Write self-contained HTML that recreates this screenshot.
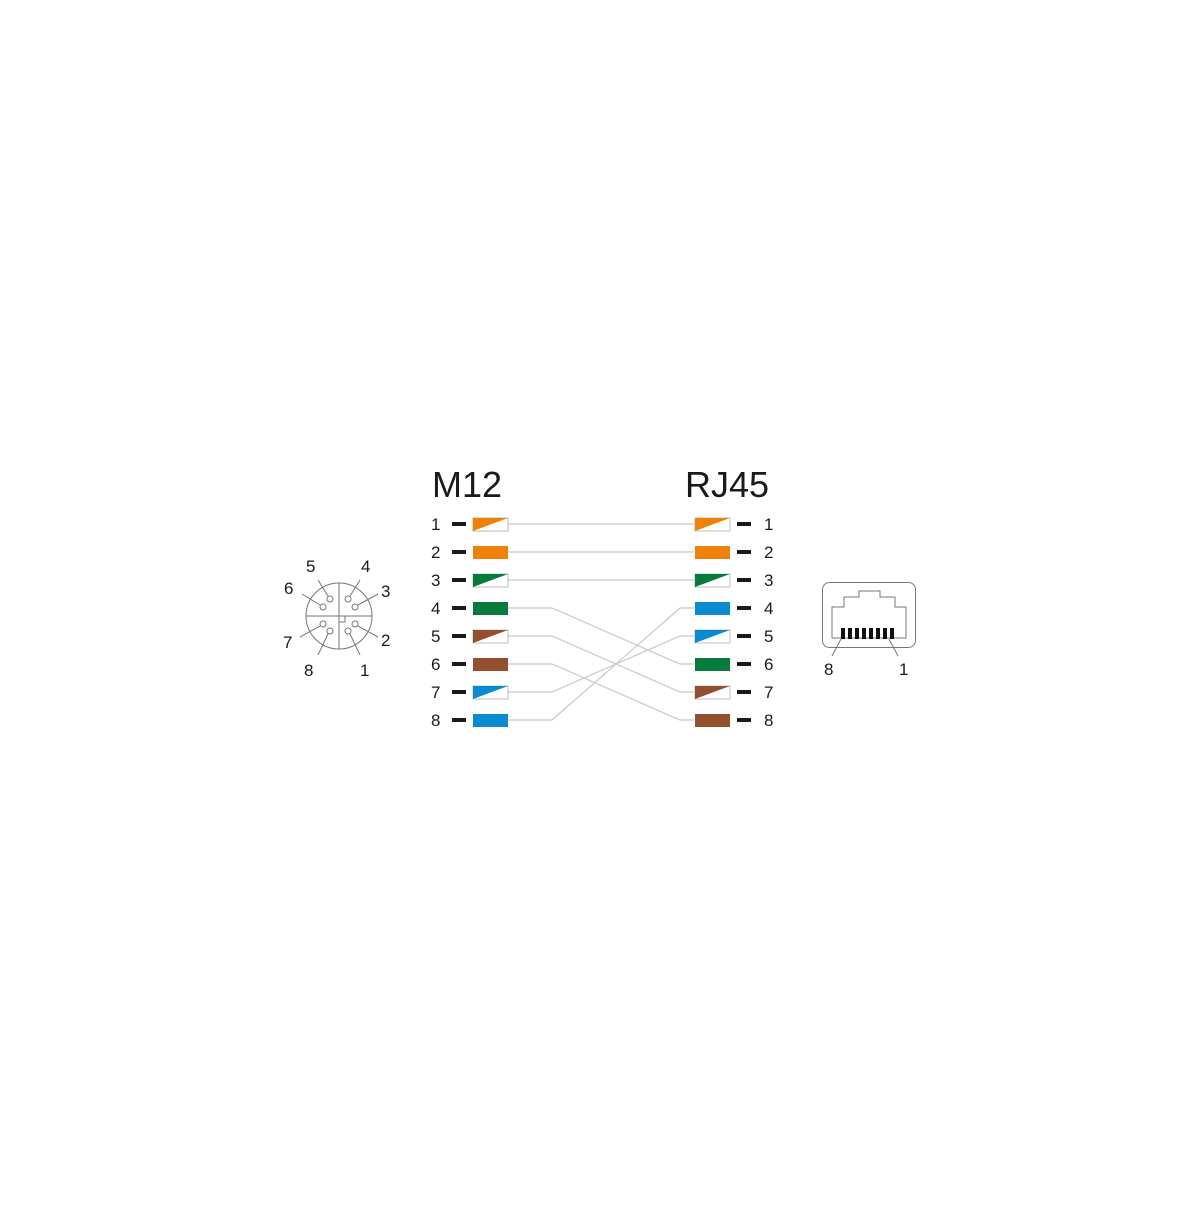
<!DOCTYPE html>
<html><head><meta charset="utf-8"><style>html,body{margin:0;padding:0;background:#fff}</style></head>
<body>
<svg width="1200" height="1200" viewBox="0 0 1200 1200" xmlns="http://www.w3.org/2000/svg" font-family="Liberation Sans, Arial, sans-serif">
<rect width="1200" height="1200" fill="#fff"/>
<text x="432" y="497" font-size="36" fill="#1a1a1a">M12</text>
<text x="685" y="497" font-size="36" fill="#1a1a1a">RJ45</text>

<!-- connection lines -->
<g stroke="#c8c8c8" stroke-width="1.2" fill="none">
<polyline points="508,524 694,524"/>
<polyline points="508,552 694,552"/>
<polyline points="508,580 694,580"/>
<polyline points="508,608 552,608 680,664 694,664"/>
<polyline points="508,636 552,636 680,692 694,692"/>
<polyline points="508,664 552,664 680,720 694,720"/>
<polyline points="508,692 552,692 680,636 694,636"/>
<polyline points="508,720 552,720 680,608 694,608"/>
</g>

<g font-size="17" fill="#1a1a1a">
<!-- left -->
<text x="431" y="530">1</text><text x="431" y="558">2</text><text x="431" y="586">3</text><text x="431" y="614">4</text>
<text x="431" y="642">5</text><text x="431" y="670">6</text><text x="431" y="698">7</text><text x="431" y="726">8</text>
<!-- right -->
<text x="764" y="530">1</text><text x="764" y="558">2</text><text x="764" y="586">3</text><text x="764" y="614">4</text>
<text x="764" y="642">5</text><text x="764" y="670">6</text><text x="764" y="698">7</text><text x="764" y="726">8</text>
</g>
<g fill="#1a1a1a">
<rect x="452" y="522" width="14" height="4"/><rect x="452" y="550" width="14" height="4"/><rect x="452" y="578" width="14" height="4"/><rect x="452" y="606" width="14" height="4"/>
<rect x="452" y="634" width="14" height="4"/><rect x="452" y="662" width="14" height="4"/><rect x="452" y="690" width="14" height="4"/><rect x="452" y="718" width="14" height="4"/>
<rect x="737" y="522" width="14" height="4"/><rect x="737" y="550" width="14" height="4"/><rect x="737" y="578" width="14" height="4"/><rect x="737" y="606" width="14" height="4"/>
<rect x="737" y="634" width="14" height="4"/><rect x="737" y="662" width="14" height="4"/><rect x="737" y="690" width="14" height="4"/><rect x="737" y="718" width="14" height="4"/>
</g>

<!-- left boxes -->
<g stroke="#b0b0b0" stroke-width="0.8">
<rect x="473" y="518" width="35" height="13" fill="#fff"/><polygon points="473,531 508,518 473,518" fill="#ee8208" stroke="none" transform="translate(0,0)"/>
</g>
<defs></defs>
<g>
<!-- striped: color triangle bottom-left -->
<rect x="473" y="518" width="35" height="13" fill="#fff" stroke="#b0b0b0" stroke-width="0.8"/>
<polygon points="473,518 473,531 508,518" fill="#ee8208"/>
<rect x="473" y="546" width="35" height="13" fill="#ee8208"/>
<rect x="473" y="574" width="35" height="13" fill="#fff" stroke="#b0b0b0" stroke-width="0.8"/>
<polygon points="473,574 473,587 508,574" fill="#087a3c"/>
<rect x="473" y="602" width="35" height="13" fill="#087a3c"/>
<rect x="473" y="630" width="35" height="13" fill="#fff" stroke="#b0b0b0" stroke-width="0.8"/>
<polygon points="473,630 473,643 508,630" fill="#93502e"/>
<rect x="473" y="658" width="35" height="13" fill="#93502e"/>
<rect x="473" y="686" width="35" height="13" fill="#fff" stroke="#b0b0b0" stroke-width="0.8"/>
<polygon points="473,686 473,699 508,686" fill="#0a8ad0"/>
<rect x="473" y="714" width="35" height="13" fill="#0a8ad0"/>

<!-- right boxes -->
<rect x="695" y="518" width="35" height="13" fill="#fff" stroke="#b0b0b0" stroke-width="0.8"/>
<polygon points="695,518 695,531 730,518" fill="#ee8208"/>
<rect x="695" y="546" width="35" height="13" fill="#ee8208"/>
<rect x="695" y="574" width="35" height="13" fill="#fff" stroke="#b0b0b0" stroke-width="0.8"/>
<polygon points="695,574 695,587 730,574" fill="#087a3c"/>
<rect x="695" y="602" width="35" height="13" fill="#0a8ad0"/>
<rect x="695" y="630" width="35" height="13" fill="#fff" stroke="#b0b0b0" stroke-width="0.8"/>
<polygon points="695,630 695,643 730,630" fill="#0a8ad0"/>
<rect x="695" y="658" width="35" height="13" fill="#087a3c"/>
<rect x="695" y="686" width="35" height="13" fill="#fff" stroke="#b0b0b0" stroke-width="0.8"/>
<polygon points="695,686 695,699 730,686" fill="#93502e"/>
<rect x="695" y="714" width="35" height="13" fill="#93502e"/>
</g>

<!-- M12 connector -->
<g stroke="#777" stroke-width="1" fill="none">
<circle cx="339" cy="616" r="33"/>
<line x1="339" y1="583" x2="339" y2="649"/>
<line x1="306" y1="616" x2="372" y2="616"/>
<rect x="339" y="616" width="6" height="6"/>
<g fill="#fff">
<circle cx="330" cy="599" r="3"/><circle cx="348" cy="599" r="3"/>
<circle cx="323" cy="607" r="3"/><circle cx="355" cy="607" r="3"/>
<circle cx="323" cy="624" r="3"/><circle cx="355" cy="624" r="3"/>
<circle cx="330" cy="631" r="3"/><circle cx="348" cy="631" r="3"/>
</g>
<line x1="328" y1="596" x2="318" y2="580"/>
<line x1="350" y1="596" x2="360" y2="580"/>
<line x1="320" y1="605" x2="302" y2="594"/>
<line x1="358" y1="605" x2="378" y2="594"/>
<line x1="320" y1="626" x2="300" y2="637"/>
<line x1="358" y1="626" x2="378" y2="637"/>
<line x1="328" y1="634" x2="318" y2="655"/>
<line x1="350" y1="634" x2="360" y2="655"/>
</g>
<g font-size="17" fill="#1a1a1a">
<text x="306" y="572">5</text><text x="361" y="572">4</text>
<text x="284" y="594">6</text><text x="381" y="597">3</text>
<text x="283" y="648">7</text><text x="381" y="646">2</text>
<text x="304" y="676">8</text><text x="360" y="676">1</text>
</g>

<!-- RJ45 -->
<g stroke="#777" stroke-width="1" fill="none">
<rect x="822.5" y="582.5" width="93" height="65" rx="7"/>
<polyline points="832,638 832,607 844,607 844,597 859,597 859,591 880,591 880,597 895,597 895,607 906,607 906,638 832,638"/>
<line x1="841" y1="639" x2="832" y2="656"/>
<line x1="889" y1="639" x2="898" y2="656"/>
</g>
<g fill="#111">
<rect x="841" y="628" width="4" height="11"/><rect x="848" y="628" width="4" height="11"/>
<rect x="855" y="628" width="4" height="11"/><rect x="862" y="628" width="4" height="11"/>
<rect x="869" y="628" width="4" height="11"/><rect x="876" y="628" width="4" height="11"/>
<rect x="883" y="628" width="4" height="11"/><rect x="890" y="628" width="4" height="11"/>
</g>
<g font-size="17" fill="#1a1a1a">
<text x="824" y="675">8</text><text x="899" y="675">1</text>
</g>
</svg>
</body></html>
